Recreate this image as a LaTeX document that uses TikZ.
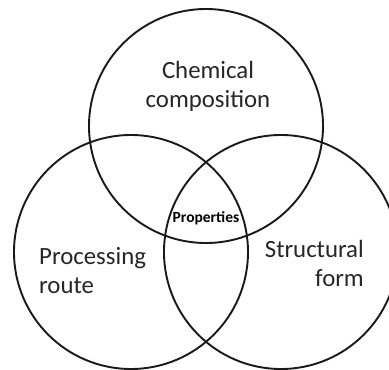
\documentclass[tikz,border=0pt]{standalone}
\usepackage{fontspec}
\setmainfont{Carlito}
\begin{document}
\begin{tikzpicture}[x=1pt,y=1pt,
  ring/.style={draw=black!90, line width=1.9pt, circle, minimum size=234pt, inner sep=0pt},
  lab/.style={font=\fontsize{24.8}{29}\selectfont, inner sep=0pt, text=black!85},
  core/.style={font=\bfseries\fontsize{15.5}{17}\selectfont, inner sep=0pt, text=black}]
\useasboundingbox (0,0) rectangle (389,-370);
\clip (0,0) rectangle (389,-370);
\node[ring] (top) at (206,-126) {};
\node[ring] (left) at (131,-252) {};
\node[ring] (right) at (281,-252) {};
\node[lab, align=center] (chem) at (208,-86) {Chemical\\composition};
\node[lab, align=left, anchor=west] (proc) at (39,-271) {Processing\\route};
\node[lab, align=right, anchor=east] (struc) at (364,-263) {Structural\\form};
\node[core] (prop) at (206,-218) {Properties};
\end{tikzpicture}
\end{document}
